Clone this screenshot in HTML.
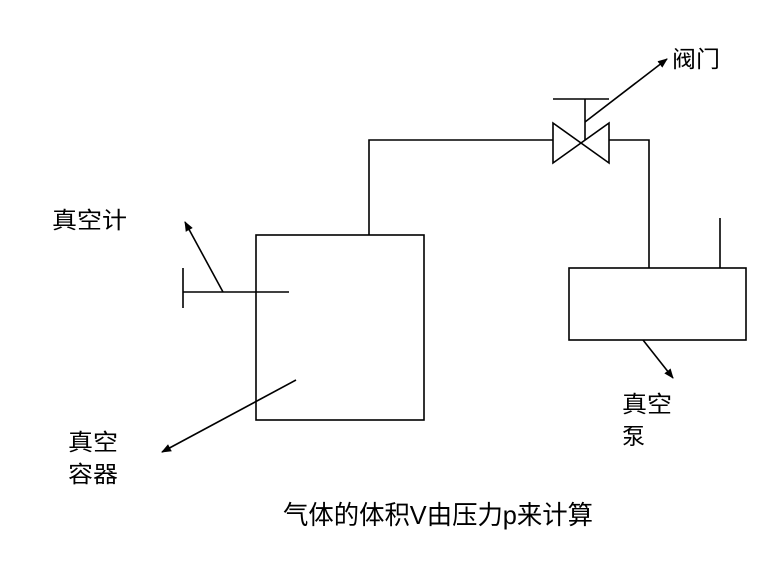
<!DOCTYPE html>
<html><head><meta charset="utf-8"><style>
html,body{margin:0;padding:0;background:#fff;}
svg{display:block;}
text{font-family:"Liberation Sans","Noto Sans CJK SC",sans-serif;fill:#000;}
</style></head><body>
<svg width="783" height="584" viewBox="0 0 783 584" xmlns="http://www.w3.org/2000/svg">
<defs><marker id="a" markerWidth="10" markerHeight="8" refX="9" refY="4" orient="auto" markerUnits="userSpaceOnUse"><path d="M0,0 L10,4 L0,8 Z" fill="#000"/></marker></defs>
<g stroke="#000" stroke-width="1.6" fill="none">
<rect x="256" y="235" width="168" height="185"/>
<rect x="569" y="268" width="177" height="72"/>
<polyline points="369,235 369,140 553,140"/>
<polyline points="609,140 649,140 649,268"/>
<line x1="720" y1="218" x2="720" y2="268"/>
<polygon points="553,123 553,163 609,123 609,163"/>
<line x1="585" y1="140" x2="585" y2="99"/>
<line x1="553" y1="99" x2="609" y2="99"/>
<line x1="585" y1="122" x2="667" y2="59" marker-end="url(#a)"/>
<line x1="183" y1="268" x2="183" y2="308"/>
<line x1="183" y1="292" x2="289" y2="292"/>
<line x1="223" y1="292" x2="185" y2="222" marker-end="url(#a)"/>
<line x1="296" y1="380" x2="162" y2="452" marker-end="url(#a)"/>
<line x1="643" y1="340" x2="673" y2="378" marker-end="url(#a)"/>
</g>
<text x="52" y="228" font-size="23" textLength="75" lengthAdjust="spacingAndGlyphs">真空计</text>
<text x="672" y="67" font-size="23" textLength="48" lengthAdjust="spacingAndGlyphs">阀门</text>
<text x="622" y="412" font-size="23" textLength="50" lengthAdjust="spacingAndGlyphs">真空</text>
<text x="622" y="444" font-size="23">泵</text>
<text x="68" y="450" font-size="23" textLength="50" lengthAdjust="spacingAndGlyphs">真空</text>
<text x="68" y="482" font-size="23" textLength="50" lengthAdjust="spacingAndGlyphs">容器</text>
<text x="283" y="524" font-size="26" textLength="310" lengthAdjust="spacingAndGlyphs">气体的体积V由压力p来计算</text>
</svg>
</body></html>
